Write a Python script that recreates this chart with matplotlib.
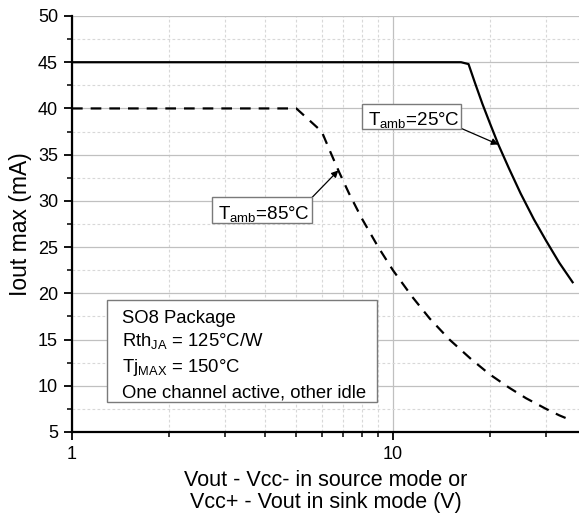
import matplotlib
matplotlib.use("Agg")
import matplotlib.pyplot as plt
from matplotlib.patches import Rectangle
from matplotlib.ticker import LogLocator, FixedLocator, MultipleLocator, NullFormatter

plt.rcParams['font.family'] = ['Liberation Sans', 'DejaVu Sans']
plt.rcParams['mathtext.fontset'] = 'custom'
plt.rcParams['mathtext.rm'] = 'Liberation Sans'
plt.rcParams['mathtext.it'] = 'Liberation Sans'

# Maximum output current vs. voltage drop (SO8, one channel active)
v_25 = [1, 16.3, 17.2, 18, 19, 20, 21.3, 23, 25, 27.5, 30, 33, 36.3]
i_25 = [45, 45, 44.8, 42.8, 40.5, 38.5, 36.1, 33.5, 30.8, 28.0, 25.7, 23.3, 21.2]

v_85 = [1, 5.0, 6.0, 6.4, 6.8, 7.3, 8, 9, 10, 11.5, 13, 15, 17.5, 20, 23, 26, 30, 33, 36.3]
i_85 = [40, 40, 37.5, 35.2, 33.1, 30.8, 28.1, 25.0, 22.5, 19.6, 17.3, 15.0, 12.9,
        11.25, 9.8, 8.65, 7.5, 6.8, 6.2]

x_ticks = [1, 10]
x_tick_labels = ["1", "10"]
y_ticks = [5, 10, 15, 20, 25, 30, 35, 40, 45, 50]

label_25 = r"T$_{\mathrm{amb}}$=25°C"
label_85 = r"T$_{\mathrm{amb}}$=85°C"
point_25 = (21.3, 36.1)
point_85 = (6.76, 33.3)

info_lines = [
    "SO8 Package",
    r"Rth$_{\mathrm{JA}}$ = 125°C/W",
    r"Tj$_{\mathrm{MAX}}$ = 150°C",
    "One channel active, other idle",
]

W, H = 579, 517
fig = plt.figure(figsize=(W / 100, H / 100), dpi=100)

def fx(px):
    return px / W

def fy(py):
    return 1 - py / H

ax = fig.add_axes([fx(72), fy(432), fx(579) - fx(72), fy(16) - fy(432)])
ax.set_xscale('log')
ax.set_xlim(1, 38)
ax.set_ylim(5, 50)

ax.plot(v_25, i_25, color='black', lw=1.6, solid_joinstyle='round', zorder=3)
ax.plot(v_85, i_85, color='black', lw=1.6, dashes=(4.8, 3.6), zorder=3)

ax.xaxis.set_major_locator(FixedLocator(x_ticks))
ax.set_xticklabels(x_tick_labels)
ax.xaxis.set_minor_locator(LogLocator(base=10, subs=range(2, 10)))
ax.xaxis.set_minor_formatter(NullFormatter())
ax.yaxis.set_major_locator(FixedLocator(y_ticks))
ax.yaxis.set_minor_locator(MultipleLocator(2.5))

ax.grid(which='major', color='#c0c0c0', lw=0.9, ls='-', zorder=0)
ax.grid(which='minor', color='#d8d8d8', lw=0.8, ls=(0, (2.5, 2)), zorder=0)
ax.set_axisbelow(True)

for s in ('top', 'right'):
    ax.spines[s].set_visible(False)
for s in ('left', 'bottom'):
    ax.spines[s].set_linewidth(1.6)

ax.tick_params(which='major', direction='out', length=6, width=1.3, labelsize=13, pad=4)
ax.tick_params(which='minor', direction='out', length=3.5, width=1.1)

ax.set_ylabel("Iout max (mA)", fontsize=16.5, labelpad=4)
ax.set_xlabel("Vout - Vcc- in source mode or\nVcc+ - Vout in sink mode (V)",
              fontsize=15.5, labelpad=5, linespacing=1.05)

# annotation boxes and arrows
box_kw = dict(facecolor='white', edgecolor='#7a7a7a', lw=1.0, zorder=5)
fig.patches.append(Rectangle((fx(362), fy(129)), fx(461) - fx(362), fy(104) - fy(129),
                             transform=fig.transFigure, **box_kw))
fig.text(fx(414), fy(124.5), label_25, ha='center', va='baseline', fontsize=13.5, zorder=6)
ax.annotate("", xy=point_25, xytext=(fx(461.5), fy(128.5)), textcoords='figure fraction',
            arrowprops=dict(arrowstyle='-|>', color='black', lw=0.9,
                            mutation_scale=10, shrinkA=0, shrinkB=0), zorder=6)

fig.patches.append(Rectangle((fx(212), fy(222.5)), fx(311.5) - fx(212), fy(197) - fy(222.5),
                             transform=fig.transFigure, **box_kw))
fig.text(fx(264), fy(218.5), label_85, ha='center', va='baseline', fontsize=13.5, zorder=6)
ax.annotate("", xy=point_85, xytext=(fx(312), fy(197.5)), textcoords='figure fraction',
            arrowprops=dict(arrowstyle='-|>', color='black', lw=0.9,
                            mutation_scale=10, shrinkA=0, shrinkB=0), zorder=6)

fig.patches.append(Rectangle((fx(107), fy(402)), fx(376.5) - fx(107), fy(299.5) - fy(402),
                             transform=fig.transFigure, **box_kw))
info_baselines = [323, 346, 372, 398]
for line, yb in zip(info_lines, info_baselines):
    fig.text(fx(122), fy(yb), line, ha='left', va='baseline', fontsize=13.3, zorder=6)

fig.savefig("out.png", dpi=100)
